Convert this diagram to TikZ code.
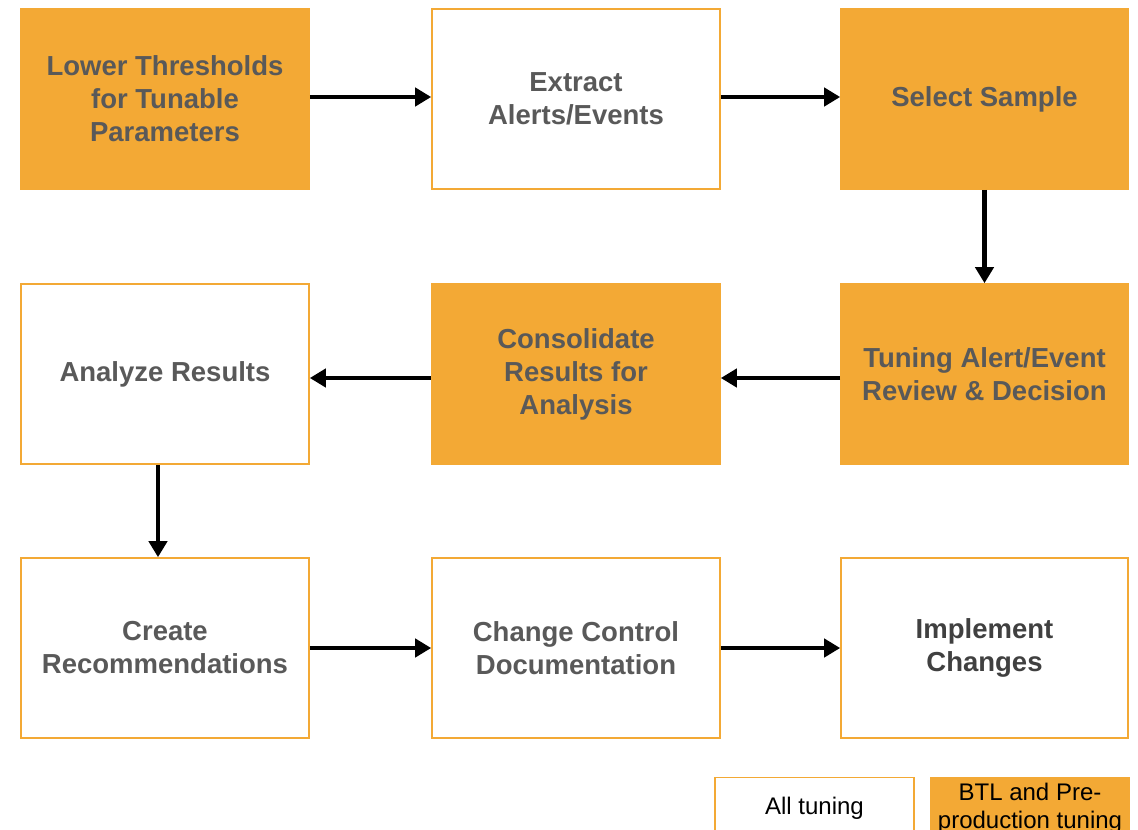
\documentclass[tikz,border=0pt]{standalone}
\usepackage{fontspec}
\setmainfont{Liberation Sans}
\usetikzlibrary{arrows.meta}

\definecolor{tuneorange}{HTML}{F3A935}
\definecolor{stepgray}{HTML}{595959}

\tikzset{
	stage/.style={draw=tuneorange, line width=1.6pt, fill=white, minimum width=288pt, minimum height=180pt, align=center, text=stepgray, font=\bfseries\fontsize{27.5}{33}\selectfont},
	btl/.style={stage, fill=tuneorange},
	flow/.style={line width=4.8pt, -{Triangle[length=16pt,width=18pt]}},
	legend/.style={draw=tuneorange, line width=1.6pt, minimum width=199pt, minimum height=61pt, align=center, font=\fontsize{24}{28}\selectfont}
}

\begin{document}
\begin{tikzpicture}[x=1pt,y=-1pt]
		\clip (0,0) rectangle (1138,830);
		\useasboundingbox (0,0) rectangle (1138,830);
		
		% first row
		\node[btl] (lower) at (165,99) {Lower Thresholds\\for Tunable\\Parameters};
		\node[stage] (extract) at (576,99) {Extract\\Alerts/Events};
		\node[btl, minimum width=287pt] (sample) at (984.5,99) {Select Sample};
		
		% second row
		\node[stage] (analyze) at (165,374) {Analyze Results};
		\node[btl] (consolidate) at (576,374) {Consolidate\\Results for\\Analysis};
		\node[btl, minimum width=287pt] (review) at (984.5,374) {Tuning Alert/Event\\Review \& Decision};
		
		% third row
		\node[stage] (recommend) at (165,648) {Create\\Recommendations};
		\node[stage] (control) at (576,648) {Change Control\\Documentation};
		\node[stage, minimum width=287pt, text=black!75] (implement) at (984.5,648) {Implement\\Changes};
		
		\draw[flow] ([yshift=2pt]lower.east) -- ([yshift=2pt]extract.west);
		\draw[flow] ([yshift=2pt]extract.east) -- ([yshift=2pt]sample.west);
		\draw[flow] (sample.south) -- (review.north);
		\draw[flow] ([yshift=-4pt]review.west) -- ([yshift=-4pt]consolidate.east);
		\draw[flow] ([yshift=-4pt]consolidate.west) -- ([yshift=-4pt]analyze.east);
		\draw[flow] ([xshift=-7pt]analyze.south) -- ([xshift=-7pt]recommend.north);
		\draw[flow] (recommend.east) -- (control.west);
		\draw[flow] (control.east) -- (implement.west);
		
		% legend
		\node[legend, fill=white] (alltune) at (814.5,808) {All tuning};
		\node[legend, fill=tuneorange] (btltune) at (1030,808) {BTL and Pre-\\production tuning};
\end{tikzpicture}
\end{document}
